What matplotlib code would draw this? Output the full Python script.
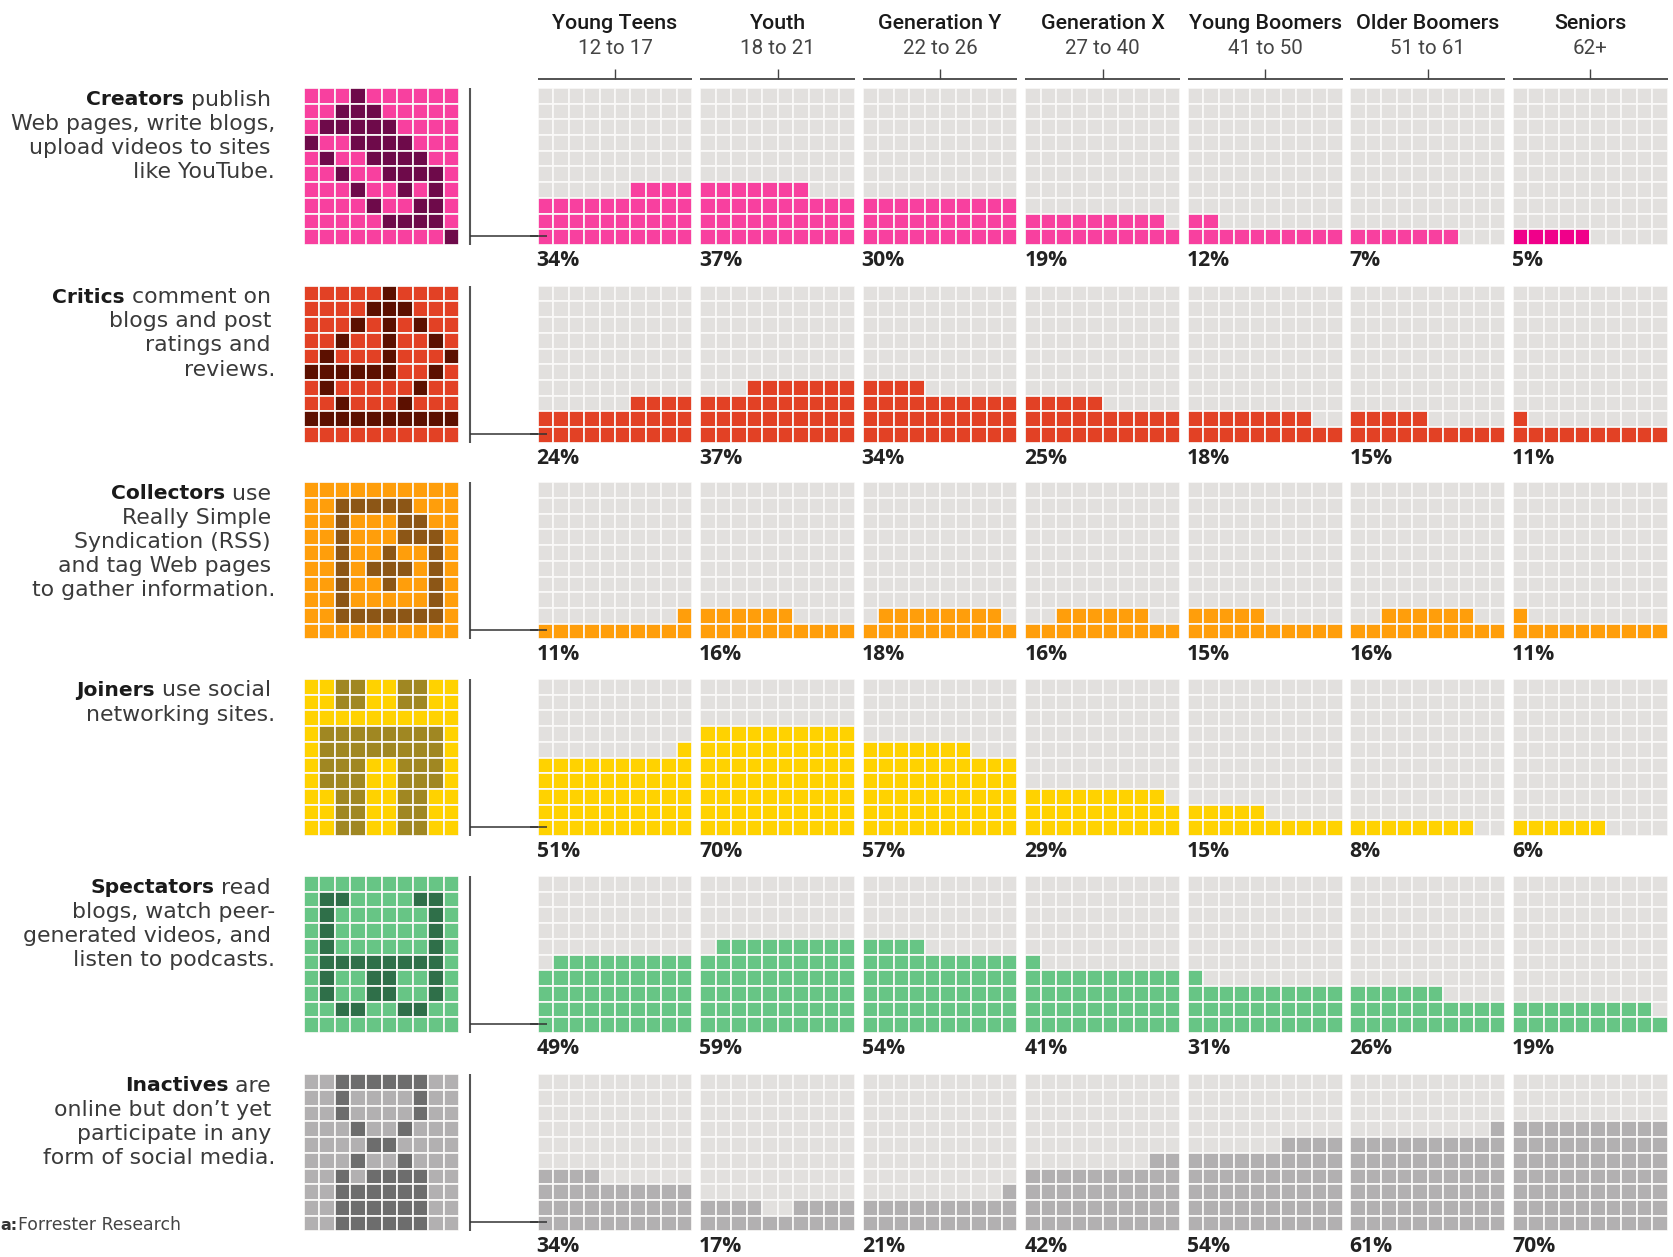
import matplotlib
matplotlib.use("Agg")
import matplotlib.pyplot as plt
import numpy as np
from matplotlib.colors import ListedColormap

W, H = 1674, 1257

ages = ["Young Teens", "Youth", "Generation Y", "Generation X", "Young Boomers", "Older Boomers", "Seniors"]
age_ranges = ["12 to 17", "18 to 21", "22 to 26", "27 to 40", "41 to 50", "51 to 61", "62+"]

creators = [34, 37, 30, 19, 12, 7, 5]
critics = [24, 37, 34, 25, 18, 15, 11]
collectors = [11, 16, 18, 16, 15, 16, 11]
joiners = [51, 70, 57, 29, 15, 8, 6]
spectators = [49, 59, 54, 41, 31, 26, 19]
inactives = [34, 17, 21, 42, 54, 61, 70]

# Cells of the topmost, partly filled row, as drawn
creators_top = ["......####", "#######...", "..........", "#########.", "##........", "#######...", "#####....."]
critics_top = ["......####", "...#######", "####......", "#####.....", "########..", "#####.....", "#........."]
collectors_top = [".........#", "######....", ".########.", "..######..", "#####.....", "..######..", "#........."]
joiners_top = [".........#", "..........", "#######...", "#########.", "#####.....", "########..", "######...."]
spectators_top = [".#########", ".#########", "####......", "#.........", "#.........", "######....", "#########."]
inactives_top = ["####......", "####..####", ".........#", "........##", "......####", ".........#", ".........."]

creators_icon = ["...#......", "..###.....", ".#####....", "#..####...", ".#..####..",
                 "..#..####.", "...#..#.#.", "....#..##.", ".....####.", ".........#"]
critics_icon = [".....#....", "....###...", "...#.#.#..", "..#..#..#.", ".#...#...#",
                "######..#.", ".#.....#..", "..#...#...", "##########", ".........."]
collectors_icon = ["..........", "..#####...", "..#...##..", "..#...###.", "..#..#..#.",
                   "..#.###.#.", "..#..#..#.", "..#.....#.", "..#######.", ".........."]
joiners_icon = ["..##..##..", "..##..##..", "..........", ".########.", ".########.",
                ".###..###.", ".###..###.", "..##..##..", "..##..##..", "..##..##.."]
spectators_icon = ["..........", ".##....##.", ".#......#.", ".#......#.", ".#......#.",
                   ".########.", ".#..##..#.", ".#..##..#.", "..##..##..", ".........."]
inactives_icon = ["..######..", "..#....#..", "..#....#..", "...#..#...", "....##....",
                  "...#..#...", "..#.####..", "..######..", "..######..", "..######.."]

values = [creators, critics, collectors, joiners, spectators, inactives]
tops = [creators_top, critics_top, collectors_top, joiners_top, spectators_top, inactives_top]
icons = [creators_icon, critics_icon, collectors_icon, joiners_icon, spectators_icon, inactives_icon]

fills = ["#F8409F", "#E24125", "#FF9E0B", "#FFD200", "#67C585", "#B2B0B1"]
darks = ["#6E0A4A", "#5C1000", "#8C5616", "#A08722", "#2F6F49", "#6D6D6D"]
senior_creator_fill = "#F0008A"
empty = "#E2E0DE"

descriptions = [
    ("Creators", " publish", ["Web pages, write blogs,", "upload videos to sites", "like YouTube."]),
    ("Critics", " comment on", ["blogs and post", "ratings and", "reviews."]),
    ("Collectors", " use", ["Really Simple", "Syndication (RSS)", "and tag Web pages", "to gather information."]),
    ("Joiners", " use social", ["networking sites."]),
    ("Spectators", " read", ["blogs, watch peer-", "generated videos, and", "listen to podcasts."]),
    ("Inactives", " are", ["online but don\u2019t yet", "participate in any", "form of social media."]),
]

row_tops = [88, 285.7, 482.3, 679, 876, 1074.3]
panel_left, panel_pitch, panel_w, panel_h = 537.6, 162.55, 154.8, 157
icon_left, icon_w = 303.6, 155.8

plt.rcParams["font.family"] = ["DejaVu Sans"]
fig = plt.figure(figsize=(W / 100, H / 100), dpi=100, facecolor="white")
bg = fig.add_axes([0, 0, 1, 1])
bg.set_xlim(0, W)
bg.set_ylim(H, 0)
bg.axis("off")


def cell_axes(x, y, w, h):
    ax = fig.add_axes([x / W, 1 - (y + h) / H, w / W, h / H])
    ax.set_xlim(0, 10)
    ax.set_ylim(10, 0)
    ax.axis("off")
    return ax


def draw_cells(ax, grid, colours):
    edges = np.arange(11)
    ax.pcolormesh(edges, edges, grid, cmap=ListedColormap(colours), vmin=0, vmax=1,
                  edgecolors="#FAF9F8", linewidth=1.25, antialiased=True)


# Column headers
for j, (name, span) in enumerate(zip(ages, age_ranges)):
    x0 = panel_left + j * panel_pitch
    cx = x0 + panel_w / 2
    bg.text(cx, 23.5, name, ha="center", va="center", fontsize=15.4, color="#1A1A1A",
            family="Roboto", weight="medium")
    bg.text(cx, 49, span, ha="center", va="center", fontsize=14.8, color="#444444",
            family="Roboto", weight="regular")
    bg.plot([x0, x0 + panel_w], [79, 79], color="#444444", lw=1.3, solid_capstyle="butt")
    bg.plot([cx, cx], [68.5, 79], color="#444444", lw=1.0, solid_capstyle="butt")

renderer = fig.canvas.get_renderer()

for i, row_y in enumerate(row_tops):
    # Icon
    icon = np.array([[ch == "#" for ch in line] for line in icons[i]], dtype=float)
    draw_cells(cell_axes(icon_left, row_y, icon_w, panel_h), icon, [fills[i], darks[i]])

    # Leader
    bg.plot([470, 470], [row_y, row_y + panel_h], color="#555555", lw=1.5, solid_capstyle="butt")
    bg.plot([470, 547], [row_y + 148, row_y + 148], color="#333333", lw=1.1, zorder=5,
            solid_capstyle="butt")

    # Description
    head, rest, lines = descriptions[i]
    y = row_y + 11.5
    tx = bg.text(271, y, rest, ha="right", va="center", fontsize=15.8, color="#3A3A3A")
    ext = tx.get_window_extent(renderer)
    bg.text(ext.x0, y, head, ha="right", va="center", fontsize=14.6, color="#1A1A1A", weight="bold")
    for k, line in enumerate(lines):
        x = 275 if line[-1] in ".,-" else 271
        bg.text(x, y + 24.1 * (k + 1), line, ha="right", va="center", fontsize=15.8, color="#3A3A3A")

    # Panels
    for j, v in enumerate(values[i]):
        x0 = panel_left + j * panel_pitch
        grid = np.zeros((10, 10))
        n_full = v // 10
        if n_full:
            grid[10 - n_full:, :] = 1
        if n_full < 10:
            grid[9 - n_full, :] = [ch == "#" for ch in tops[i][j]]
        colour = senior_creator_fill if (i == 0 and j == 6) else fills[i]
        draw_cells(cell_axes(x0, row_y, panel_w, panel_h), grid, [empty, colour])
        bg.text(x0 - 1, row_y + 172.5, f"{v}%", ha="left", va="center", fontsize=15.2,
                color="#222222", family="Open Sans", weight="bold")

# Leader lines over the cells
top = fig.add_axes([0, 0, 1, 1], facecolor="none")
top.set_xlim(0, W)
top.set_ylim(H, 0)
top.axis("off")
for row_y in row_tops:
    top.plot([530, 547], [row_y + 148, row_y + 148], color="#333333", lw=1.1, solid_capstyle="butt")

# Source, cut by the left edge in the reference
bg.text(0, 1225, "a:", ha="left", va="center", fontsize=11.5, color="#333333", weight="bold")
bg.text(18.5, 1225, "Forrester Research", ha="left", va="center", fontsize=12.4, color="#444444")

fig.savefig("out.png", dpi=100, facecolor="white")
